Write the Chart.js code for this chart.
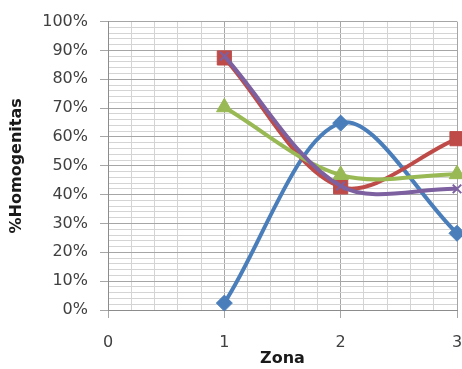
<!DOCTYPE html>
<html>
<head>
<meta charset="utf-8">
<script src="https://cdn.jsdelivr.net/npm/chart.js@4/dist/chart.umd.min.js"></script>
<style>
  html, body { margin: 0; padding: 0; background: #ffffff; }
  canvas { display: block; }
</style>
</head>
<body>
<canvas id="grafico" width="462" height="369"></canvas>
<script>
// Zones on the horizontal axis and % homogeneity per series
const zonas = [1, 2, 3];
const serieAzul = [2.4, 64.8, 26.6];
const serieRoja = [87.4, 42.7, 59.4];
const serieVerde = [70.3, 46.8, 47.1];
const serieMorada = [88.0, 43.0, 42.0];

// Axis ticks: labels on whole zones and every 10 %, minor grid in between
const xMin = 0, xMax = 3, xPaso = 0.2;
const yMin = 0, yMax = 100, yPaso = 2, yEtiquetaCada = 10;

const GRID_MAYOR = '#a6a6a6';
const GRID_MENOR = '#d4d4d4';
const TEXTO = '#404040';

function puntos(valores) {
  return zonas.map((z, i) => ({ x: z, y: valores[i] }));
}
function esEntero(v) { return Math.abs(v - Math.round(v)) < 1e-6; }
function esMayorY(v) { return Math.abs(v % yEtiquetaCada) < 1e-6; }

function serie(valores, color, estilo, radio, orden, borde) {
  return {
    data: puntos(valores),
    borderColor: color,
    backgroundColor: color,
    pointBackgroundColor: color,
    pointBorderColor: color,
    pointStyle: estilo,
    pointRadius: radio,
    pointBorderWidth: borde,
    borderWidth: 4,
    tension: 0.33,
    clip: false,
    order: orden
  };
}

new Chart(document.getElementById('grafico'), {
  type: 'line',
  data: {
    datasets: [
      serie(serieAzul, '#4a7ebb', 'rectRot', 8, 4, 1),
      serie(serieRoja, '#be4b48', 'rect', 10, 3, 1),
      serie(serieVerde, '#98b954', 'triangle', 9, 2, 1),
      serie(serieMorada, '#7d60a0', 'crossRot', 6, 1, 2)
    ]
  },
  options: {
    responsive: false,
    animation: false,
    layout: { autoPadding: false, padding: { top: 17, right: 5, bottom: 0, left: 0 } },
    plugins: { legend: { display: false }, tooltip: { enabled: false } },
    scales: {
      x: {
        type: 'linear',
        min: xMin,
        max: xMax,
        afterFit: s => { s.height = 59; s.paddingRight = 0; s.paddingLeft = 0; },
        ticks: {
          stepSize: xPaso,
          autoSkip: false,
          maxRotation: 0,
          padding: 15,
          color: TEXTO,
          font: { family: 'DejaVu Sans', size: 16 },
          callback: v => esEntero(v) ? String(Math.round(v)) : ''
        },
        grid: {
          lineWidth: 1,
          tickLength: 8,
          color: c => esEntero(c.tick.value) ? GRID_MAYOR : GRID_MENOR,
          tickColor: c => esEntero(c.tick.value) ? GRID_MAYOR : 'rgba(0,0,0,0)'
        },
        border: { color: '#8c8c8c', width: 1 },
        title: {
          display: true,
          text: 'Zona',
          color: '#1a1a1a',
          font: { family: 'DejaVu Sans', size: 16, weight: 'bold' },
          padding: { top: 0, bottom: 1 }
        }
      },
      y: {
        type: 'linear',
        min: yMin,
        max: yMax,
        afterFit: s => { s.width = 108; },
        ticks: {
          stepSize: yPaso,
          autoSkip: false,
          maxTicksLimit: 200,
          padding: 12,
          color: TEXTO,
          font: { family: 'DejaVu Sans', size: 16 },
          callback: v => esMayorY(v) ? Math.round(v) + '%' : ''
        },
        grid: {
          lineWidth: 1,
          tickLength: 8,
          color: c => esMayorY(c.tick.value) ? GRID_MAYOR : GRID_MENOR,
          tickColor: c => esMayorY(c.tick.value) ? GRID_MAYOR : 'rgba(0,0,0,0)'
        },
        border: { color: '#8c8c8c', width: 1 },
        title: {
          display: true,
          text: '%Homogenitas',
          color: '#1a1a1a',
          font: { family: 'DejaVu Sans', size: 16, weight: 'bold' },
          padding: { top: 7, bottom: 0 }
        }
      }
    }
  }
});
</script>
</body>
</html>
